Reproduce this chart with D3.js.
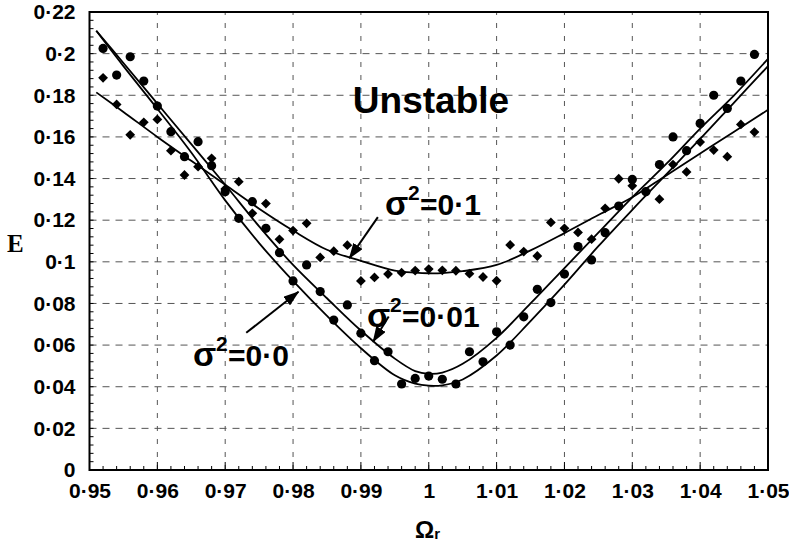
<!DOCTYPE html>
<html>
<head>
<meta charset="utf-8">
<script src="https://cdn.jsdelivr.net/npm/d3@7"></script>
<style>
  body { margin: 0; background: #fff; }
  svg { display: block; }
  text { font-family: "Liberation Sans", Arial, sans-serif; font-weight: bold; fill: #000; }
</style>
</head>
<body>
<svg id="chart" width="789" height="555"></svg>
<script>
// Axis ticks and labels
const xTicks = [0.95, 0.96, 0.97, 0.98, 0.99, 1.0, 1.01, 1.02, 1.03, 1.04, 1.05];
const xTickLabels = ["0·95", "0·96", "0·97", "0·98", "0·99", "1", "1·01", "1·02", "1·03", "1·04", "1·05"];
const yTicks = [0, 0.02, 0.04, 0.06, 0.08, 0.1, 0.12, 0.14, 0.16, 0.18, 0.2, 0.22];
const yTickLabels = ["0", "0·02", "0·04", "0·06", "0·08", "0·1", "0·12", "0·14", "0·16", "0·18", "0·2", "0·22"];

// Fitted curves
const curveX = [0.951, 0.955, 0.96, 0.965, 0.97, 0.975, 0.98, 0.985, 0.99, 0.995, 0.998, 1.0,
  1.002, 1.005, 1.01, 1.015, 1.02, 1.025, 1.03, 1.035, 1.04, 1.045, 1.05];
const curveSigma00 = [0.211, 0.194, 0.1735, 0.1525, 0.1295, 0.109, 0.0908, 0.074, 0.0585, 0.0455, 0.0415, 0.0405,
  0.0407, 0.0435, 0.055, 0.0715, 0.089, 0.1075, 0.125, 0.142, 0.159, 0.1765, 0.194];
const curveSigma001 = [0.211, 0.1955, 0.176, 0.1565, 0.137, 0.117, 0.0985, 0.0825, 0.067, 0.0535, 0.0475, 0.0462,
  0.0468, 0.051, 0.0635, 0.08, 0.097, 0.114, 0.131, 0.147, 0.164, 0.18, 0.1975];
const curveSigma01 = [0.1814, 0.172, 0.16, 0.1485, 0.137, 0.1255, 0.115, 0.1058, 0.1005, 0.0958, 0.0948, 0.0945,
  0.0946, 0.0955, 0.0985, 0.1055, 0.1138, 0.1225, 0.131, 0.1415, 0.152, 0.1625, 0.173];

// Simulated points
const pointX = [0.952, 0.954, 0.956, 0.958, 0.96, 0.962, 0.964, 0.966, 0.968, 0.97, 0.972, 0.974, 0.976,
  0.978, 0.98, 0.982, 0.984, 0.986, 0.988, 0.99, 0.992, 0.994, 0.996, 0.998, 1.0, 1.002, 1.004, 1.006,
  1.008, 1.01, 1.012, 1.014, 1.016, 1.018, 1.02, 1.022, 1.024, 1.026, 1.028, 1.03, 1.032, 1.034, 1.036,
  1.038, 1.04, 1.042, 1.044, 1.046, 1.048];
const circleE = [0.2025, 0.1897, 0.1985, 0.1868, 0.1748, 0.1625, 0.1505, 0.1577, 0.1462, 0.1337, 0.1209, 0.1289, 0.1161,
  0.1044, 0.0908, 0.0985, 0.0857, 0.072, 0.0793, 0.0657, 0.0525, 0.0568, 0.0413, 0.044, 0.0451, 0.0436, 0.0413, 0.0568,
  0.052, 0.0664, 0.06, 0.0736, 0.0868, 0.0804, 0.0941, 0.1073, 0.1009, 0.114, 0.1268, 0.1396, 0.1337, 0.1467, 0.16,
  0.1534, 0.1665, 0.18, 0.1737, 0.1868, 0.1996];
const diamondE = [0.1884, 0.1756, 0.161, 0.167, 0.1684, 0.1534, 0.1417, 0.1457, 0.1497, 0.135, 0.1385, 0.1233, 0.128,
  0.1108, 0.115, 0.1185, 0.1021, 0.1051, 0.108, 0.0908, 0.0925, 0.0941, 0.0948, 0.0958, 0.0965, 0.0959, 0.0957, 0.0943,
  0.0927, 0.0909, 0.1081, 0.1049, 0.1028, 0.1189, 0.1161, 0.1141, 0.1109, 0.1257, 0.1399, 0.1365, 0.1337, 0.1301, 0.1467,
  0.1432, 0.1575, 0.1537, 0.1505, 0.166, 0.1623];

const svg = d3.select("#chart");

const x = d3.scaleLinear().domain([0.95, 1.05]).range([89.5, 768]);
const y = d3.scaleLinear().domain([0, 0.22]).range([470, 12]);

// Dashed grid
svg.append("g")
  .selectAll("line")
  .data(xTicks.slice(1, -1))
  .join("line")
  .attr("x1", (d) => x(d))
  .attr("x2", (d) => x(d))
  .attr("y1", y(0))
  .attr("y2", y(0.22))
  .attr("stroke", "#555")
  .attr("stroke-width", 1)
  .attr("stroke-dasharray", "5,8");

svg.append("g")
  .selectAll("line")
  .data(yTicks.slice(1, -1))
  .join("line")
  .attr("x1", x(0.95))
  .attr("x2", x(1.05))
  .attr("y1", (d) => y(d))
  .attr("y2", (d) => y(d))
  .attr("stroke", "#555")
  .attr("stroke-width", 1)
  .attr("stroke-dasharray", "7,6");

// Minor ticks pointing inwards
const xMinor = d3.range(0, 51).map((i) => 0.95 + i * 0.002);
svg.append("g")
  .selectAll("line")
  .data(xMinor)
  .join("line")
  .attr("x1", (d) => x(d))
  .attr("x2", (d) => x(d))
  .attr("y1", y(0))
  .attr("y2", (d, i) => y(0) - (i % 5 === 0 ? 8 : 4))
  .attr("stroke", "#000")
  .attr("stroke-width", 1);

const yMinor = d3.range(0, 56).map((i) => i * 0.004);
svg.append("g")
  .selectAll("line")
  .data(yMinor)
  .join("line")
  .attr("x1", x(0.95))
  .attr("x2", x(0.95) + 4)
  .attr("y1", (d) => y(d))
  .attr("y2", (d) => y(d))
  .attr("stroke", "#000")
  .attr("stroke-width", 1);

// Frame
svg.append("rect")
  .attr("x", x(0.95))
  .attr("y", y(0.22))
  .attr("width", x(1.05) - x(0.95))
  .attr("height", y(0) - y(0.22))
  .attr("fill", "none")
  .attr("stroke", "#000")
  .attr("stroke-width", 2);

// Axis labels
const xAxis = svg.append("g")
  .attr("transform", `translate(0,${y(0)})`)
  .call(d3.axisBottom(x).tickValues(xTicks).tickFormat((d, i) => xTickLabels[i]).tickSize(0).tickPadding(13));
xAxis.select(".domain").remove();
xAxis.selectAll("line").remove();
xAxis.attr("font-size", 21).attr("font-family", null);

const yAxis = svg.append("g")
  .attr("transform", `translate(${x(0.95)},0)`)
  .call(d3.axisLeft(y).tickValues(yTicks).tickFormat((d, i) => yTickLabels[i]).tickSize(0).tickPadding(14));
yAxis.select(".domain").remove();
yAxis.selectAll("line").remove();
yAxis.attr("font-size", 21).attr("font-family", null);

// Curves
const line = d3.line()
  .x((d) => x(d[0]))
  .y((d) => y(d[1]))
  .curve(d3.curveCatmullRom.alpha(0.5));

[curveSigma00, curveSigma001, curveSigma01].forEach((vals) => {
  svg.append("path")
    .datum(curveX.map((cx, i) => [cx, vals[i]]))
    .attr("d", line)
    .attr("fill", "none")
    .attr("stroke", "#000")
    .attr("stroke-width", 1.8);
});

// Points
svg.append("g")
  .selectAll("path")
  .data(pointX.map((px, i) => [px, diamondE[i]]))
  .join("path")
  .attr("d", d3.symbol(d3.symbolSquare, 48))
  .attr("transform", (d) => `translate(${x(d[0])},${y(d[1])}) rotate(45)`)
  .attr("fill", "#000");

svg.append("g")
  .selectAll("circle")
  .data(pointX.map((px, i) => [px, circleE[i]]))
  .join("circle")
  .attr("cx", (d) => x(d[0]))
  .attr("cy", (d) => y(d[1]))
  .attr("r", 4.6)
  .attr("fill", "#000");

// Annotations
svg.append("defs").append("marker")
  .attr("id", "head")
  .attr("markerUnits", "userSpaceOnUse")
  .attr("markerWidth", 16)
  .attr("markerHeight", 11)
  .attr("refX", 15)
  .attr("refY", 5.5)
  .attr("orient", "auto")
  .append("path")
  .attr("d", "M0,0 L16,5.5 L0,11 Z")
  .attr("fill", "#000");

const arrows = [
  [[0.9925, 0.1215], [0.9883, 0.1017]],
  [[0.9941, 0.0737], [0.9918, 0.0616]],
  [[0.9731, 0.0659], [0.9808, 0.0856]]
];
arrows.forEach(([from, to]) => {
  svg.append("line")
    .attr("x1", x(from[0]))
    .attr("y1", y(from[1]))
    .attr("x2", x(to[0]))
    .attr("y2", y(to[1]))
    .attr("stroke", "#000")
    .attr("stroke-width", 2)
    .attr("marker-end", "url(#head)");
});

svg.append("text")
  .attr("x", 431)
  .attr("y", 113)
  .attr("text-anchor", "middle")
  .attr("font-size", 37)
  .text("Unstable");

function sigmaLabel(x0, baseline, rest) {
  const t = svg.append("text");
  t.append("tspan").attr("x", x0).attr("y", baseline).attr("font-size", 34).text("σ");
  t.append("tspan").attr("x", x0 + 23).attr("y", baseline - 15).attr("font-size", 21).text("2");
  t.append("tspan").attr("x", x0 + 35).attr("y", baseline).attr("font-size", 30).text(rest);
}
sigmaLabel(385, 215, "=0·1");
sigmaLabel(367, 327, "=0·01");
sigmaLabel(193, 366, "=0·0");

// Axis titles
svg.append("text")
  .attr("x", 7)
  .attr("y", 252)
  .style("font-family", "'Liberation Serif', 'Times New Roman', serif")
  .attr("font-size", 25)
  .text("E");

const omega = svg.append("text").attr("x", 415).attr("y", 538);
omega.append("tspan").attr("font-size", 24).text("Ω");
omega.append("tspan").attr("font-size", 15).attr("dy", 1).text("r");
</script>
</body>
</html>
